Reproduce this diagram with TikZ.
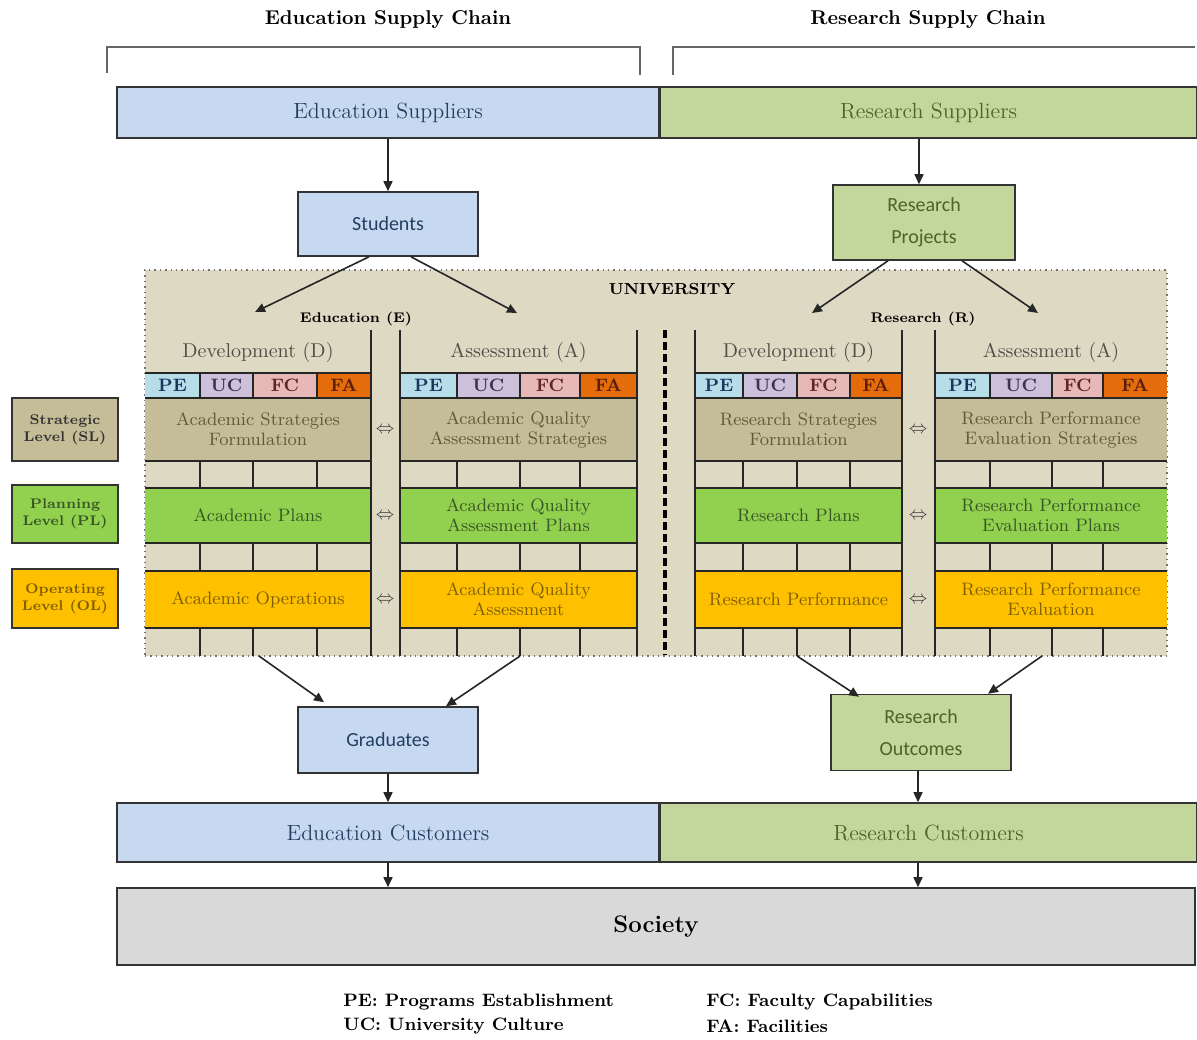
\documentclass[tikz,border=0pt]{standalone}
\usepackage{fontspec}
\newfontfamily\calibri{Carlito}
\usetikzlibrary{arrows.meta,calc}

\definecolor{edublue}{HTML}{C6D9F1}
\definecolor{resgreen}{HTML}{C3D69B}
\definecolor{unibeige}{HTML}{DDD9C3}
\definecolor{sltan}{HTML}{C4BD97}
\definecolor{plgreen}{HTML}{92D050}
\definecolor{olgold}{HTML}{FFC000}
\definecolor{pecol}{HTML}{B7DEE8}
\definecolor{uccol}{HTML}{CCC0DA}
\definecolor{fccol}{HTML}{E6B9B8}
\definecolor{facol}{HTML}{E46C0A}
\definecolor{socgray}{HTML}{D9D9D9}
\definecolor{edutext}{HTML}{243F60}
\definecolor{restext}{HTML}{4F6228}
\definecolor{sltext}{HTML}{625939}
\definecolor{pltext}{HTML}{375623}
\definecolor{oltext}{HTML}{7F6000}
\definecolor{headtext}{HTML}{504E46}
\definecolor{petext}{HTML}{17375E}
\definecolor{uctext}{HTML}{3F3151}
\definecolor{fctext}{HTML}{632523}
\definecolor{fatext}{HTML}{5A1E0A}

\tikzset{
  box/.style={draw=black!80, line width=0.8pt, inner sep=0pt, align=center},
  bar/.style={box, font=\fontsize{11}{13}\selectfont},
  small/.style={box, font=\calibri\fontsize{10}{16}\selectfont},
  title/.style={font=\bfseries\fontsize{10}{12}\selectfont},
  lvl/.style={box, minimum width=53pt, font=\bfseries\fontsize{7}{8.5}\selectfont},
  headtext/.style={text=headtext, font=\fontsize{10}{12}\selectfont},
  cell/.style={font=\bfseries\fontsize{9}{10}\selectfont, inner sep=0pt},
  rowtext/.style={align=center, inner sep=0pt, font=\fontsize{9}{10}\selectfont},
  gridline/.style={draw=black!85, line width=0.7pt},
  iff/.style={text=black!75, inner sep=0pt, font=\fontsize{9}{9}\selectfont},
  arr/.style={-{Triangle[length=5pt,width=4.5pt]}, draw=black!85, line width=0.8pt},
  legend/.style={anchor=west, inner sep=0pt, font=\bfseries\fontsize{9}{10}\selectfont}
}

\begin{document}
\begin{tikzpicture}[x=0.5pt,y=-0.5pt]
\useasboundingbox (0,0) rectangle (1197,1039);

\node[title] (edutitle) at (388,20) {Education Supply Chain};
\node[title] (restitle) at (928,20) {Research Supply Chain};
\draw[black!60, line width=1pt] (107,73) |- (640,47) -- (640,75);
\draw[black!60, line width=1pt] (673,75) |- (1195,47);

\node[bar, fill=edublue, text=edutext, minimum width=271pt, minimum height=25.5pt] (edusup) at (388,112.5) {Education Suppliers};
\node[bar, fill=resgreen, text=restext, minimum width=268pt, minimum height=25.5pt, anchor=west] (ressup) at (edusup.east) {Research Suppliers};

\node[small, fill=edublue, text=edutext, minimum width=90pt, minimum height=32pt] (students) at (388,224) {Students};
\node[small, fill=resgreen, text=restext, minimum width=91pt, minimum height=37.5pt] (projects) at (924,222.5) {Research\\Projects};
\coordinate (resx) at (919,0);
\draw[arr] (edusup) -- (students);
\draw[arr] (resx |- ressup.south) -- (resx |- projects.north);

\node[draw=black!55, dotted, line width=0.7pt, fill=unibeige, minimum width=511pt, minimum height=193pt, inner sep=0pt] (univ) at (656,463) {};
\node[font=\bfseries\fontsize{8}{10}\selectfont] (unilabel) at (672,289) {UNIVERSITY};
\node[font=\bfseries\fontsize{7}{9}\selectfont] (edlabel) at (356,319) {Education (E)};
\node[font=\bfseries\fontsize{7}{9}\selectfont] (rslabel) at (923,319) {Research (R)};

\coordinate (edtip) at (255,312);
\coordinate (eatip) at (517,313);
\coordinate (rdtip) at (812,313);
\coordinate (ratip) at (1038,313);
\draw[arr] ($(students.south)+(-19,0)$) -- (edtip);
\draw[arr] ($(students.south)+(23,0)$) -- (eatip);
\draw[arr] ($(projects.south)+(-36,0)$) -- (rdtip);
\draw[arr] ($(projects.south)+(38,0)$) -- (ratip);

\foreach \p/\xa/\xb/\xc/\xd/\xe/\head/\sl/\pl/\ol in {
  ed/145/200/253/317/371/{Development (D)}/{Academic Strategies\\Formulation}/{Academic Plans}/{Academic Operations},
  ea/400/457/520/580/637/{Assessment (A)}/{Academic Quality\\Assessment Strategies}/{Academic Quality\\Assessment Plans}/{Academic Quality\\Assessment},
  rd/695/743/797/850/902/{Development (D)}/{Research Strategies\\Formulation}/{Research Plans}/{Research Performance},
  ra/935/990/1052/1103/1167/{Assessment (A)}/{Research Performance\\Evaluation Strategies}/{Research Performance\\Evaluation Plans}/{Research Performance\\Evaluation}}
{
  \node[headtext] (\p-head) at ({(\xa+\xe)/2},352) {\head};
  \fill[sltan] (\xa,398) rectangle (\xe,461);
  \fill[plgreen] (\xa,488) rectangle (\xe,543);
  \fill[olgold] (\xa,571) rectangle (\xe,628);
  \foreach \l/\r/\t/\c/\tc in {\xa/\xb/PE/pecol/petext, \xb/\xc/UC/uccol/uctext, \xc/\xd/FC/fccol/fctext, \xd/\xe/FA/facol/fatext}{
    \fill[\c] (\l,373) rectangle (\r,398);
    \node[cell, text=\tc] (\p-\t) at ({(\l+\r)/2},385.5) {\t};
  }
  \foreach \y in {373,398,461,488,543,571,628}
    \draw[gridline] (\xa,\y) -- (\xe,\y);
  \foreach \x in {\xb,\xc,\xd}
    \foreach \ya/\yb in {373/398,461/488,543/571,628/656}
      \draw[gridline] (\x,\ya) -- (\x,\yb);
  \node[rowtext, text=sltext] (\p-sl) at ({(\xa+\xe)/2},429.5) {\sl};
  \node[rowtext, text=pltext] (\p-pl) at ({(\xa+\xe)/2},515.5) {\pl};
  \node[rowtext, text=oltext] (\p-ol) at ({(\xa+\xe)/2},599.5) {\ol};
}
\foreach \x in {371,400,637,695,902,935}
  \draw[gridline] (\x,330) -- (\x,656);
\foreach \x/\g in {385/e,918/r}
  \foreach \y/\lv in {430/sl,516/pl,600/ol}
    \node[iff] (\g-\lv) at (\x,\y) {$\Leftrightarrow$};
\draw[line width=2pt, dash pattern=on 4pt off 2pt] (665,330) -- (665,655);

\node[lvl, fill=sltan, text=black!80, minimum height=31.5pt] (sl) at (65,429.5) {Strategic\\Level (SL)};
\node[lvl, fill=plgreen, text=pltext, minimum height=29pt] (pl) at (65,514) {Planning\\Level (PL)};
\node[lvl, fill=olgold, text=oltext, minimum height=29.5pt] (ol) at (65,598.5) {Operating\\Level (OL)};

\node[small, fill=edublue, text=edutext, minimum width=90pt, minimum height=33pt] (graduates) at (388,740) {Graduates};
\node[small, fill=resgreen, text=restext, minimum width=90pt, minimum height=38pt] (outcomes) at (921,732.5) {Research\\Outcomes};

\coordinate (edout) at (259,656);
\coordinate (eaout) at (520,656);
\coordinate (rdout) at (797,656);
\coordinate (raout) at (1042,656);
\draw[arr] (edout) -- ($(graduates.north)+(-64,-4)$);
\draw[arr] (eaout) -- ($(graduates.north)+(58,0)$);
\draw[arr] (rdout) -- ($(outcomes.north)+(-62,3)$);
\draw[arr] (raout) -- ($(outcomes.north)+(67,0)$);

\node[bar, fill=edublue, text=edutext, minimum width=271pt, minimum height=29.5pt] (educust) at (388,832.5) {Education Customers};
\node[bar, fill=resgreen, text=restext, minimum width=268pt, minimum height=29.5pt, anchor=west] (rescust) at (educust.east) {Research Customers};
\node[box, fill=socgray, minimum width=539pt, minimum height=38.5pt, font=\bfseries\fontsize{12}{14}\selectfont] (society) at (656,926.5) {Society};

\coordinate (outx) at (918,0);
\draw[arr] (graduates) -- (educust);
\draw[arr] (outx |- outcomes.south) -- (outx |- rescust.north);
\draw[arr] (educust.south) -- (educust.south |- society.north);
\draw[arr] (outx |- rescust.south) -- (outx |- society.north);

\node[legend] (pe) at (343,1002) {PE: Programs Establishment};
\node[legend] (uc) at (343,1026) {UC: University Culture};
\node[legend] (fc) at (706,1002) {FC: Faculty Capabilities};
\node[legend] (fa) at (706,1026) {FA: Facilities};
\end{tikzpicture}
\end{document}
